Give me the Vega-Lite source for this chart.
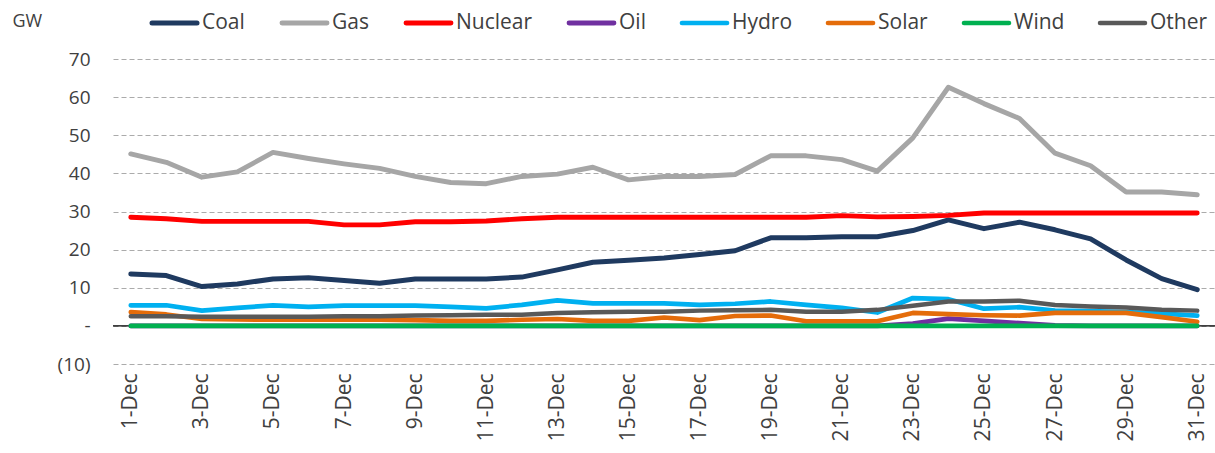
{
"$schema": "https://vega.github.io/schema/vega-lite/v6.json",
"autosize": {"type": "none"},
"padding": {"left": 113, "top": 59, "right": 0, "bottom": 89},
"width": 1102,
"height": 305,
"background": "white",
"config": {"font": "Open Sans", "view": {"stroke": null}, "axis": {"labelOverlap": false}},
"layer": [
{
"data": {"values": [{}]},
"mark": {"type": "rule", "color": "#000000", "strokeWidth": 1.2},
"encoding": {"y": {"datum": 0, "type": "quantitative", "scale": {"domain": [-10, 70], "nice": false, "zero": false},
"axis": {"title": "GW", "titleAngle": 0, "titleX": -101, "titleY": -38, "titleAlign": "left", "titleBaseline": "middle",
"titleFont": "Open Sans", "titleFontSize": 18, "titleFontWeight": "normal", "titleColor": "#404040",
"values": [-10, 0, 10, 20, 30, 40, 50, 60, 70], "domain": false, "ticks": false, "tickSize": 0, "labelOverlap": false,
"labelPadding": 23, "labelFont": "Open Sans", "labelFontSize": 19, "labelColor": "#404040", "labelBaseline": "middle",
"labelExpr": "datum.value == 0 ? '-  ' : (datum.value < 0 ? '(' + abs(datum.value) + ')' : datum.value + ' ')",
"grid": true, "gridColor": "#ABABAB", "gridDash": [5, 3], "gridWidth": 1}}}
},
{
"data": {"values": [
{"day":"1-Dec","series":"Coal","gw":13.6},{"day":"2-Dec","series":"Coal","gw":13.2},{"day":"3-Dec","series":"Coal","gw":10.3},{"day":"4-Dec","series":"Coal","gw":11.0},{"day":"5-Dec","series":"Coal","gw":12.3},{"day":"6-Dec","series":"Coal","gw":12.6},{"day":"7-Dec","series":"Coal","gw":11.9},{"day":"8-Dec","series":"Coal","gw":11.2},{"day":"9-Dec","series":"Coal","gw":12.3},{"day":"10-Dec","series":"Coal","gw":12.3},{"day":"11-Dec","series":"Coal","gw":12.3},{"day":"12-Dec","series":"Coal","gw":12.8},{"day":"13-Dec","series":"Coal","gw":14.7},{"day":"14-Dec","series":"Coal","gw":16.7},{"day":"15-Dec","series":"Coal","gw":17.2},{"day":"16-Dec","series":"Coal","gw":17.8},{"day":"17-Dec","series":"Coal","gw":18.7},{"day":"18-Dec","series":"Coal","gw":19.7},{"day":"19-Dec","series":"Coal","gw":23.1},{"day":"20-Dec","series":"Coal","gw":23.1},{"day":"21-Dec","series":"Coal","gw":23.4},{"day":"22-Dec","series":"Coal","gw":23.4},{"day":"23-Dec","series":"Coal","gw":25.0},{"day":"24-Dec","series":"Coal","gw":27.8},{"day":"25-Dec","series":"Coal","gw":25.5},{"day":"26-Dec","series":"Coal","gw":27.2},{"day":"27-Dec","series":"Coal","gw":25.2},{"day":"28-Dec","series":"Coal","gw":22.8},{"day":"29-Dec","series":"Coal","gw":17.3},{"day":"30-Dec","series":"Coal","gw":12.4},{"day":"31-Dec","series":"Coal","gw":9.5},
{"day":"1-Dec","series":"Gas","gw":45.1},{"day":"2-Dec","series":"Gas","gw":42.9},{"day":"3-Dec","series":"Gas","gw":39.0},{"day":"4-Dec","series":"Gas","gw":40.4},{"day":"5-Dec","series":"Gas","gw":45.5},{"day":"6-Dec","series":"Gas","gw":43.9},{"day":"7-Dec","series":"Gas","gw":42.5},{"day":"8-Dec","series":"Gas","gw":41.3},{"day":"9-Dec","series":"Gas","gw":39.2},{"day":"10-Dec","series":"Gas","gw":37.6},{"day":"11-Dec","series":"Gas","gw":37.3},{"day":"12-Dec","series":"Gas","gw":39.2},{"day":"13-Dec","series":"Gas","gw":39.8},{"day":"14-Dec","series":"Gas","gw":41.6},{"day":"15-Dec","series":"Gas","gw":38.3},{"day":"16-Dec","series":"Gas","gw":39.2},{"day":"17-Dec","series":"Gas","gw":39.2},{"day":"18-Dec","series":"Gas","gw":39.7},{"day":"19-Dec","series":"Gas","gw":44.6},{"day":"20-Dec","series":"Gas","gw":44.6},{"day":"21-Dec","series":"Gas","gw":43.6},{"day":"22-Dec","series":"Gas","gw":40.6},{"day":"23-Dec","series":"Gas","gw":49.3},{"day":"24-Dec","series":"Gas","gw":62.6},{"day":"25-Dec","series":"Gas","gw":58.3},{"day":"26-Dec","series":"Gas","gw":54.4},{"day":"27-Dec","series":"Gas","gw":45.3},{"day":"28-Dec","series":"Gas","gw":42.0},{"day":"29-Dec","series":"Gas","gw":35.1},{"day":"30-Dec","series":"Gas","gw":35.1},{"day":"31-Dec","series":"Gas","gw":34.4},
{"day":"1-Dec","series":"Nuclear","gw":28.5},{"day":"2-Dec","series":"Nuclear","gw":28.1},{"day":"3-Dec","series":"Nuclear","gw":27.4},{"day":"4-Dec","series":"Nuclear","gw":27.4},{"day":"5-Dec","series":"Nuclear","gw":27.4},{"day":"6-Dec","series":"Nuclear","gw":27.4},{"day":"7-Dec","series":"Nuclear","gw":26.5},{"day":"8-Dec","series":"Nuclear","gw":26.5},{"day":"9-Dec","series":"Nuclear","gw":27.3},{"day":"10-Dec","series":"Nuclear","gw":27.3},{"day":"11-Dec","series":"Nuclear","gw":27.5},{"day":"12-Dec","series":"Nuclear","gw":28.1},{"day":"13-Dec","series":"Nuclear","gw":28.5},{"day":"14-Dec","series":"Nuclear","gw":28.5},{"day":"15-Dec","series":"Nuclear","gw":28.5},{"day":"16-Dec","series":"Nuclear","gw":28.5},{"day":"17-Dec","series":"Nuclear","gw":28.5},{"day":"18-Dec","series":"Nuclear","gw":28.5},{"day":"19-Dec","series":"Nuclear","gw":28.5},{"day":"20-Dec","series":"Nuclear","gw":28.5},{"day":"21-Dec","series":"Nuclear","gw":28.9},{"day":"22-Dec","series":"Nuclear","gw":28.6},{"day":"23-Dec","series":"Nuclear","gw":28.7},{"day":"24-Dec","series":"Nuclear","gw":29.0},{"day":"25-Dec","series":"Nuclear","gw":29.6},{"day":"26-Dec","series":"Nuclear","gw":29.6},{"day":"27-Dec","series":"Nuclear","gw":29.6},{"day":"28-Dec","series":"Nuclear","gw":29.6},{"day":"29-Dec","series":"Nuclear","gw":29.6},{"day":"30-Dec","series":"Nuclear","gw":29.6},{"day":"31-Dec","series":"Nuclear","gw":29.6},
{"day":"1-Dec","series":"Oil","gw":0},{"day":"2-Dec","series":"Oil","gw":0},{"day":"3-Dec","series":"Oil","gw":0},{"day":"4-Dec","series":"Oil","gw":0},{"day":"5-Dec","series":"Oil","gw":0},{"day":"6-Dec","series":"Oil","gw":0},{"day":"7-Dec","series":"Oil","gw":0},{"day":"8-Dec","series":"Oil","gw":0},{"day":"9-Dec","series":"Oil","gw":0},{"day":"10-Dec","series":"Oil","gw":0},{"day":"11-Dec","series":"Oil","gw":0},{"day":"12-Dec","series":"Oil","gw":0},{"day":"13-Dec","series":"Oil","gw":0},{"day":"14-Dec","series":"Oil","gw":0},{"day":"15-Dec","series":"Oil","gw":0},{"day":"16-Dec","series":"Oil","gw":0},{"day":"17-Dec","series":"Oil","gw":0},{"day":"18-Dec","series":"Oil","gw":0},{"day":"19-Dec","series":"Oil","gw":0},{"day":"20-Dec","series":"Oil","gw":0},{"day":"21-Dec","series":"Oil","gw":0},{"day":"22-Dec","series":"Oil","gw":0},{"day":"23-Dec","series":"Oil","gw":0.6},{"day":"24-Dec","series":"Oil","gw":1.9},{"day":"25-Dec","series":"Oil","gw":1.3},{"day":"26-Dec","series":"Oil","gw":0.7},{"day":"27-Dec","series":"Oil","gw":0.1},{"day":"28-Dec","series":"Oil","gw":0},{"day":"29-Dec","series":"Oil","gw":0},{"day":"30-Dec","series":"Oil","gw":0},{"day":"31-Dec","series":"Oil","gw":0},
{"day":"1-Dec","series":"Hydro","gw":5.4},{"day":"2-Dec","series":"Hydro","gw":5.4},{"day":"3-Dec","series":"Hydro","gw":4.0},{"day":"4-Dec","series":"Hydro","gw":4.7},{"day":"5-Dec","series":"Hydro","gw":5.4},{"day":"6-Dec","series":"Hydro","gw":5.0},{"day":"7-Dec","series":"Hydro","gw":5.3},{"day":"8-Dec","series":"Hydro","gw":5.3},{"day":"9-Dec","series":"Hydro","gw":5.3},{"day":"10-Dec","series":"Hydro","gw":5.0},{"day":"11-Dec","series":"Hydro","gw":4.6},{"day":"12-Dec","series":"Hydro","gw":5.5},{"day":"13-Dec","series":"Hydro","gw":6.7},{"day":"14-Dec","series":"Hydro","gw":5.9},{"day":"15-Dec","series":"Hydro","gw":5.9},{"day":"16-Dec","series":"Hydro","gw":5.9},{"day":"17-Dec","series":"Hydro","gw":5.5},{"day":"18-Dec","series":"Hydro","gw":5.8},{"day":"19-Dec","series":"Hydro","gw":6.4},{"day":"20-Dec","series":"Hydro","gw":5.5},{"day":"21-Dec","series":"Hydro","gw":4.7},{"day":"22-Dec","series":"Hydro","gw":3.5},{"day":"23-Dec","series":"Hydro","gw":7.3},{"day":"24-Dec","series":"Hydro","gw":7.0},{"day":"25-Dec","series":"Hydro","gw":4.5},{"day":"26-Dec","series":"Hydro","gw":4.9},{"day":"27-Dec","series":"Hydro","gw":4.0},{"day":"28-Dec","series":"Hydro","gw":3.9},{"day":"29-Dec","series":"Hydro","gw":3.6},{"day":"30-Dec","series":"Hydro","gw":3.2},{"day":"31-Dec","series":"Hydro","gw":2.7},
{"day":"1-Dec","series":"Solar","gw":3.6},{"day":"2-Dec","series":"Solar","gw":3.0},{"day":"3-Dec","series":"Solar","gw":1.8},{"day":"4-Dec","series":"Solar","gw":1.7},{"day":"5-Dec","series":"Solar","gw":1.6},{"day":"6-Dec","series":"Solar","gw":1.6},{"day":"7-Dec","series":"Solar","gw":1.6},{"day":"8-Dec","series":"Solar","gw":1.6},{"day":"9-Dec","series":"Solar","gw":1.5},{"day":"10-Dec","series":"Solar","gw":1.3},{"day":"11-Dec","series":"Solar","gw":1.3},{"day":"12-Dec","series":"Solar","gw":1.6},{"day":"13-Dec","series":"Solar","gw":1.8},{"day":"14-Dec","series":"Solar","gw":1.3},{"day":"15-Dec","series":"Solar","gw":1.3},{"day":"16-Dec","series":"Solar","gw":2.2},{"day":"17-Dec","series":"Solar","gw":1.5},{"day":"18-Dec","series":"Solar","gw":2.6},{"day":"19-Dec","series":"Solar","gw":2.7},{"day":"20-Dec","series":"Solar","gw":1.2},{"day":"21-Dec","series":"Solar","gw":1.2},{"day":"22-Dec","series":"Solar","gw":1.2},{"day":"23-Dec","series":"Solar","gw":3.4},{"day":"24-Dec","series":"Solar","gw":3.1},{"day":"25-Dec","series":"Solar","gw":2.8},{"day":"26-Dec","series":"Solar","gw":2.7},{"day":"27-Dec","series":"Solar","gw":3.4},{"day":"28-Dec","series":"Solar","gw":3.4},{"day":"29-Dec","series":"Solar","gw":3.4},{"day":"30-Dec","series":"Solar","gw":2.3},{"day":"31-Dec","series":"Solar","gw":1.1},
{"day":"1-Dec","series":"Wind","gw":0},{"day":"2-Dec","series":"Wind","gw":0},{"day":"3-Dec","series":"Wind","gw":0},{"day":"4-Dec","series":"Wind","gw":0},{"day":"5-Dec","series":"Wind","gw":0},{"day":"6-Dec","series":"Wind","gw":0},{"day":"7-Dec","series":"Wind","gw":0},{"day":"8-Dec","series":"Wind","gw":0},{"day":"9-Dec","series":"Wind","gw":0},{"day":"10-Dec","series":"Wind","gw":0},{"day":"11-Dec","series":"Wind","gw":0},{"day":"12-Dec","series":"Wind","gw":0},{"day":"13-Dec","series":"Wind","gw":0},{"day":"14-Dec","series":"Wind","gw":0},{"day":"15-Dec","series":"Wind","gw":0},{"day":"16-Dec","series":"Wind","gw":0},{"day":"17-Dec","series":"Wind","gw":0},{"day":"18-Dec","series":"Wind","gw":0},{"day":"19-Dec","series":"Wind","gw":0},{"day":"20-Dec","series":"Wind","gw":0},{"day":"21-Dec","series":"Wind","gw":0},{"day":"22-Dec","series":"Wind","gw":0},{"day":"23-Dec","series":"Wind","gw":0},{"day":"24-Dec","series":"Wind","gw":0},{"day":"25-Dec","series":"Wind","gw":0},{"day":"26-Dec","series":"Wind","gw":0},{"day":"27-Dec","series":"Wind","gw":0},{"day":"28-Dec","series":"Wind","gw":0},{"day":"29-Dec","series":"Wind","gw":0},{"day":"30-Dec","series":"Wind","gw":0},{"day":"31-Dec","series":"Wind","gw":0},
{"day":"1-Dec","series":"Other","gw":2.5},{"day":"2-Dec","series":"Other","gw":2.5},{"day":"3-Dec","series":"Other","gw":2.4},{"day":"4-Dec","series":"Other","gw":2.4},{"day":"5-Dec","series":"Other","gw":2.4},{"day":"6-Dec","series":"Other","gw":2.4},{"day":"7-Dec","series":"Other","gw":2.5},{"day":"8-Dec","series":"Other","gw":2.5},{"day":"9-Dec","series":"Other","gw":2.7},{"day":"10-Dec","series":"Other","gw":2.8},{"day":"11-Dec","series":"Other","gw":2.9},{"day":"12-Dec","series":"Other","gw":2.9},{"day":"13-Dec","series":"Other","gw":3.4},{"day":"14-Dec","series":"Other","gw":3.6},{"day":"15-Dec","series":"Other","gw":3.7},{"day":"16-Dec","series":"Other","gw":3.7},{"day":"17-Dec","series":"Other","gw":4.0},{"day":"18-Dec","series":"Other","gw":4.1},{"day":"19-Dec","series":"Other","gw":4.2},{"day":"20-Dec","series":"Other","gw":3.7},{"day":"21-Dec","series":"Other","gw":3.7},{"day":"22-Dec","series":"Other","gw":4.2},{"day":"23-Dec","series":"Other","gw":5.3},{"day":"24-Dec","series":"Other","gw":6.4},{"day":"25-Dec","series":"Other","gw":6.4},{"day":"26-Dec","series":"Other","gw":6.6},{"day":"27-Dec","series":"Other","gw":5.5},{"day":"28-Dec","series":"Other","gw":5.1},{"day":"29-Dec","series":"Other","gw":4.8},{"day":"30-Dec","series":"Other","gw":4.2},{"day":"31-Dec","series":"Other","gw":4.0}
]},
"mark": {"type": "line", "strokeJoin": "round", "strokeCap": "round"},
"encoding": {
"x": {"field": "day", "type": "ordinal", "sort": null,
"scale": {"type": "point", "padding": 0.5},
"axis": {"title": null, "domain": false, "ticks": false, "tickSize": 0, "grid": false, "labelOverlap": false,
"values": ["1-Dec","3-Dec","5-Dec","7-Dec","9-Dec","11-Dec","13-Dec","15-Dec","17-Dec","19-Dec","21-Dec","23-Dec","25-Dec","27-Dec","29-Dec","31-Dec"],
"labelAngle": -90, "labelPadding": 9, "labelFont": "Open Sans", "labelFontSize": 21, "labelColor": "#404040"}},
"y": {"field": "gw", "type": "quantitative",
"scale": {"domain": [-10, 70], "nice": false, "zero": false},
"axis": {"title": "GW", "titleAngle": 0, "titleX": -101, "titleY": -38, "titleAlign": "left", "titleBaseline": "middle",
"titleFont": "Open Sans", "titleFontSize": 18, "titleFontWeight": "normal", "titleColor": "#404040",
"values": [-10, 0, 10, 20, 30, 40, 50, 60, 70], "domain": false, "ticks": false, "tickSize": 0, "labelOverlap": false,
"labelPadding": 23, "labelFont": "Open Sans", "labelFontSize": 19, "labelColor": "#404040", "labelBaseline": "middle",
"labelExpr": "datum.value == 0 ? '-  ' : (datum.value < 0 ? '(' + abs(datum.value) + ')' : datum.value + ' ')",
"grid": true, "gridColor": "#ABABAB", "gridDash": [5, 3], "gridWidth": 1}},
"color": {"field": "series", "type": "nominal",
"scale": {"domain": ["Coal","Gas","Nuclear","Oil","Hydro","Solar","Wind","Other"],
"range": ["#1f3a60","#a6a6a6","#ff0000","#7030a0","#00b0f0","#e46c0a","#00b050","#595959"]},
"legend": {"orient": "none", "legendX": 36.5, "legendY": -61, "direction": "horizontal", "columns": 8, "title": null,
"symbolType": "stroke", "symbolSize": 2025, "symbolStrokeWidth": 5, "labelFont": "Open Sans", "labelFontSize": 21,
"labelOffset": 2.5, "columnPadding": 26, "padding": 0, "labelColor": "#404040",
"encode": {"symbols": {"update": {"strokeCap": {"value": "round"}}}}}},
"strokeWidth": {"field": "series", "type": "nominal",
"scale": {"domain": ["Coal","Gas","Nuclear","Oil","Hydro","Solar","Wind","Other"], "range": [5, 4.5, 4, 4, 4, 4, 5, 6]},
"legend": null}
}
}
]
}
